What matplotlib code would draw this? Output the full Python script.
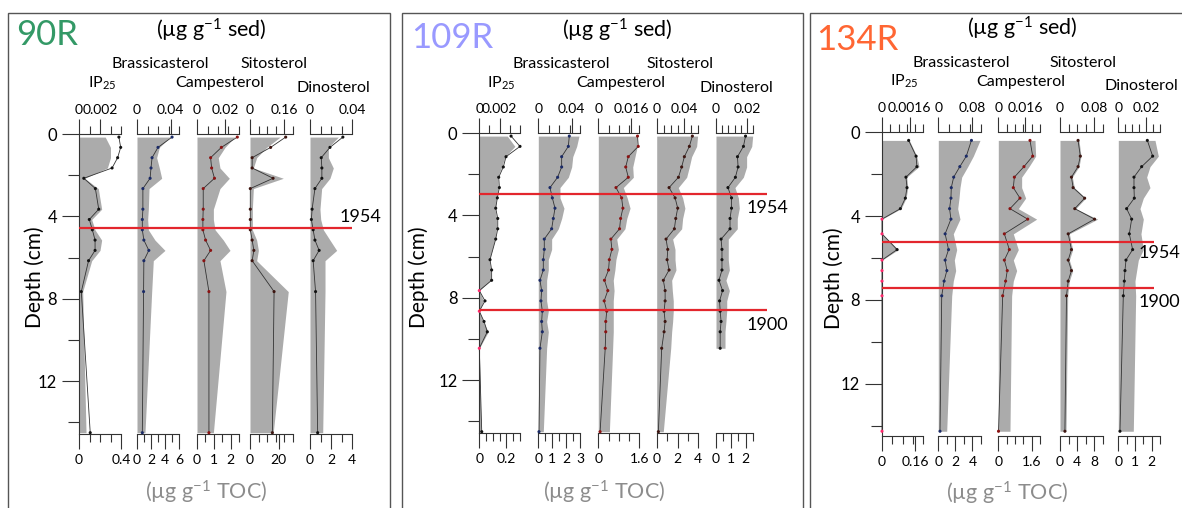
import numpy as np
import matplotlib
matplotlib.use("Agg")
import matplotlib.pyplot as plt
from matplotlib.patches import Rectangle

plt.rcParams['font.family'] = ['Lato', 'DejaVu Sans']
plt.rcParams['mathtext.fontset'] = 'custom'
plt.rcParams['mathtext.rm'] = 'Lato'
plt.rcParams['mathtext.it'] = 'Lato:italic'
plt.rcParams['mathtext.bf'] = 'Lato:bold'

# ---------------------------------------------------------------- data
cores = ['90R', '109R', '134R']
compounds = ['IP$_{25}$', 'Brassicasterol', 'Campesterol', 'Sitosterol', 'Dinosterol']
nan = np.nan

# sample mid-depths (cm)
depth_90R = [0.15, 0.65, 1.15, 1.65, 2.15, 2.65, 3.65, 4.15, 4.65, 5.15, 5.65, 6.15, 7.65, 14.5]
depth_109R = [0.15, 0.65, 1.15, 1.65, 2.15, 2.65, 3.15, 3.65, 4.15, 4.65, 5.15, 5.65, 6.15,
              6.65, 7.15, 7.65, 8.15, 8.65, 9.15, 9.65, 10.45, 14.5]
depth_134R = [0.4, 1.15, 1.65, 2.15, 2.65, 3.15, 3.65, 4.15, 4.85, 5.6, 6.1, 6.6, 7.1, 7.8, 14.25]

# 90R  (sed: ug/g sediment, toc: ug/g TOC)
ip25_sed_90R = [0.0025, 0.003, 0.003, 0.0027, 0.00054, 0.00184, 0.00216, 0.00121, 0.00152, 0.00216, 0.002, 0.00121, 0.00035, 0.00067]
ip25_toc_90R = [0.38, 0.397, 0.368, 0.315, 0.046, 0.156, 0.188, 0.098, 0.127, 0.153, 0.153, 0.091, 0.022, 0.107]
bras_sed_90R = [0.0393, 0.0266, 0.0234, 0.0266, 0.0294, 0.0143, 0.0135, 0.0127, 0.0135, 0.0214, 0.0333, 0.0194, 0.0175, 0.0095]
bras_toc_90R = [5.01, 3.0, 2.15, 2.0, 1.87, 0.84, 0.84, 0.76, 0.76, 0.98, 1.69, 0.98, 0.94, 0.76]
camp_sed_90R = [0.0269, 0.02, 0.0152, 0.0164, 0.0231, 0.0164, 0.0117, 0.0117, 0.0129, 0.0188, 0.0236, 0.0164, 0.0207, 0.0117]
camp_toc_90R = [2.40, 1.45, 0.81, 0.87, 1.04, 0.37, 0.37, 0.35, 0.35, 0.51, 0.81, 0.41, 0.71, 0.71]
sito_sed_90R = [0.14, 0.0775, 0.031, 0.0155, 0.155, 0.0155, 0.011, 0.011, 0.011, 0.031, 0.039, 0.031, 0.178, 0.108]
sito_toc_90R = [24.9, 14.4, 1.5, 1.5, 16.1, 0.2, 0.2, 0.2, 0.2, 1.5, 2.7, 1.5, 16.8, 15.6]
dino_sed_90R = [0.027, 0.0175, 0.0175, 0.0222, 0.019, 0.0111, 0.0095, 0.0102, 0.0127, 0.019, 0.0254, 0.0143, 0.0143, 0.0121]
dino_toc_90R = [3.13, 1.9, 1.07, 1.13, 1.13, 0.47, 0.2, 0.13, 0.3, 0.47, 0.87, 0.3, 0.53, 0.73]

# 109R
ip25_sed_109R = [0.00275, 0.0035, 0.00253, 0.0022, 0.0018, 0.00187, 0.0017, 0.00154, 0.0017, 0.0017, 0.00154, nan,
                 0.00098, 0.00112, 0.00112, 0.0, 0.0004, 0.0, 0.0004, 0.00088, 0.0, 0.00017]
ip25_toc_109R = [0.234, 0.3, 0.197, 0.177, 0.143, 0.148, 0.133, 0.121, 0.136, 0.136, 0.121, nan,
                 0.079, 0.091, 0.091, 0.0, 0.042, 0.0, 0.035, 0.059, 0.0, 0.018]
bras_sed_109R = [0.0488, 0.046, 0.0413, 0.04, 0.036, 0.026, 0.026, 0.0308, 0.028, 0.024, 0.016, 0.016, 0.012,
                 0.012, 0.01, 0.01, 0.01, 0.012, 0.01, 0.012, 0.01, 0.006]
bras_toc_109R = [2.23, 2.16, 1.68, 1.68, 1.39, 0.84, 1.01, 1.2, 1.08, 0.96, 0.43, 0.43, 0.36, 0.36, 0.12, 0.24,
                 0.19, 0.29, 0.24, 0.29, 0.12, 0.05]
camp_sed_109R = [0.019, 0.019, 0.0179, 0.0168, 0.0171, 0.0122, 0.0141, 0.0155, 0.0139, 0.013, 0.009, 0.0098,
                 0.0086, 0.0081, 0.0073, 0.0077, 0.0073, 0.0073, 0.0073, 0.0073, 0.007, 0.0054]
camp_toc_109R = [1.53, 1.56, 1.17, 1.07, 1.17, 0.69, 0.91, 0.96, 0.87, 0.83, 0.49, 0.53, 0.43, 0.4, 0.24, 0.37,
                 0.23, 0.33, 0.29, 0.29, 0.27, 0.07]
sito_sed_109R = [0.059, 0.0576, 0.0504, 0.047, 0.0432, 0.0311, 0.0374, 0.0407, 0.0374, 0.036, 0.023, 0.0264,
                 0.0264, 0.0278, 0.0216, 0.0225, 0.0239, 0.0239, 0.023, 0.0216, 0.0202, 0.0095]
sito_toc_109R = [3.43, 3.14, 2.66, 2.4, 2.09, 1.19, 1.77, 2.02, 1.83, 1.7, 0.9, 1.06, 1.0, 1.19, 0.64, 0.81,
                 0.81, 0.71, 0.81, 0.71, 0.48, 0.16]
dino_sed_109R = [0.0236, 0.023, 0.0197, 0.0197, 0.0176, 0.0122, 0.0144, 0.015, 0.0137, 0.0137, 0.0079, 0.0079,
                 0.0079, 0.0086, 0.0064, 0.0086, 0.0069, 0.0069, 0.0064, 0.0058, 0.0058, nan]
dino_toc_109R = [1.98, 1.84, 1.44, 1.48, 1.3, 0.8, 1.04, 1.04, 0.94, 0.94, 0.34, 0.4, 0.4, 0.4, 0.2, 0.44,
                 0.24, 0.28, 0.34, 0.28, 0.28, nan]

# 134R
ip25_sed_134R = [0.00159, 0.00202, 0.00215, 0.00144, 0.0015, 0.0014, 0.00111, 0.0, 0.0, 0.00095, 0.0, 0.0, 0.0, 0.0, 0.0]
ip25_toc_134R = [0.129, 0.165, 0.169, 0.116, 0.121, 0.113, 0.089, 0.0, 0.0, 0.073, 0.0, 0.0, 0.0, 0.0, 0.0]
bras_sed_134R = [0.0977, 0.082, 0.0689, 0.0548, 0.0508, 0.0485, 0.0454, 0.0508, 0.0351, 0.0431, 0.0375, 0.0407, 0.0351, 0.0314, 0.0197]
bras_toc_134R = [3.88, 3.28, 2.52, 1.8, 1.52, 1.48, 1.32, 1.48, 0.8, 1.2, 0.8, 1.0, 0.68, 0.4, 0.2]
camp_sed_134R = [0.022, 0.0224, 0.0184, 0.014, 0.014, 0.0164, 0.012, 0.023, 0.009, 0.012, 0.009, 0.011, 0.009, 0.008, 0.007]
camp_toc_134R = [1.52, 1.65, 1.23, 0.77, 0.72, 1.04, 0.56, 1.41, 0.29, 0.53, 0.29, 0.43, 0.35, 0.21, 0.01]
sito_sed_134R = [0.0445, 0.0492, 0.0445, 0.0289, 0.0336, 0.0601, 0.0367, 0.0882, 0.0219, 0.0297, 0.0219, 0.0297, 0.0219, 0.018, 0.0141]
sito_toc_134R = [4.23, 4.76, 4.23, 2.68, 3.07, 5.77, 3.46, 8.08, 1.92, 2.68, 1.92, 2.68, 1.92, 1.52, 1.15]
dino_sed_134R = [0.0264, 0.0288, 0.0228, 0.0204, 0.0228, 0.018, 0.0156, 0.018, 0.0163, 0.018, 0.0144, 0.0132, 0.012, 0.0125, 0.0108]
dino_toc_134R = [1.74, 2.06, 1.4, 0.94, 0.94, 0.96, 0.5, 0.8, 0.66, 0.86, 0.46, 0.4, 0.36, 0.3, 0.1]

depths = {'90R': depth_90R, '109R': depth_109R, '134R': depth_134R}
sed = {'90R': [ip25_sed_90R, bras_sed_90R, camp_sed_90R, sito_sed_90R, dino_sed_90R],
       '109R': [ip25_sed_109R, bras_sed_109R, camp_sed_109R, sito_sed_109R, dino_sed_109R],
       '134R': [ip25_sed_134R, bras_sed_134R, camp_sed_134R, sito_sed_134R, dino_sed_134R]}
toc = {'90R': [ip25_toc_90R, bras_toc_90R, camp_toc_90R, sito_toc_90R, dino_toc_90R],
       '109R': [ip25_toc_109R, bras_toc_109R, camp_toc_109R, sito_toc_109R, dino_toc_109R],
       '134R': [ip25_toc_134R, bras_toc_134R, camp_toc_134R, sito_toc_134R, dino_toc_134R]}

# axis scales: (max, number of tick intervals, labelled values)
top_scales = {
    '90R': [(0.004, 4, [0, 0.002]), (0.05, 4, [0, 0.04]), (0.03, 4, [0, 0.02]), (0.2, 5, [0, 0.16]), (0.04, 4, [0, 0.04])],
    '109R': [(0.004, 4, [0, 0.002]), (0.05, 4, [0, 0.04]), (0.02, 4, [0, 0.016]), (0.06, 6, [0, 0.04]), (0.024, 6, [0, 0.02])],
    '134R': [(0.0024, 5, [0, 0.0016]), (0.1, 4, [0, 0.08]), (0.025, 5, [0, 0.016]), (0.1, 5, [0, 0.08]), (0.03, 6, [0, 0.02])],
}
bottom_scales = {
    '90R': [(0.4, 4, [0, 0.4]), (6, 6, [0, 2, 4, 6]), (2.5, 5, [0, 1, 2]), (30, 5, [0, 20]), (4, 4, [0, 2, 4])],
    '109R': [(0.3, 6, [0, 0.2]), (3, 6, [0, 1, 2, 3]), (1.6, 4, [0, 1.6]), (4, 4, [0, 2, 4]), (2.5, 5, [0, 1, 2])],
    '134R': [(0.2, 4, [0, 0.16]), (5, 5, [0, 2, 4]), (2.0, 5, [0, 1.6]), (10, 5, [0, 4, 8]), (2.5, 5, [0, 1, 2])],
}

# dated horizons: (depth cm, year)
events = {'90R': [(4.58, '1954')], '109R': [(2.96, '1954'), (8.61, '1900')], '134R': [(5.22, '1954'), (7.41, '1900')]}

# ---------------------------------------------------------------- layout (pixels)
W, H = 1182, 508
PT = 0.72  # points per pixel at 100 dpi

layout = {
    '90R': dict(box=(8, 390), y0=134, y1=434, ppcm=20.6,
                cols=[(79, 121), (137, 179), (197, 239), (250, 293), (310, 352)],
                line_end=352, name_xy=(16, 45), name_color='#339966', sed_xy=(211, 37.5),
                title_base=68.3, toc_xy=(206, 492), depth_xy=(35, 277),
                event_xy=[(340, 217)]),
    '109R': dict(box=(402, 803), y0=133, y1=433, ppcm=20.6,
                 cols=[(479.3, 520), (538.3, 580), (598.3, 639.3), (656.7, 698.3), (716, 753.3)],
                 line_end=767, name_xy=(411, 48), name_color='#9999ff', sed_xy=(617, 37.5),
                 title_base=68.3, toc_xy=(604, 492), depth_xy=(419, 277),
                 event_xy=[(747, 208), (747, 325)]),
    '134R': dict(box=(810, 1200), y0=132, y1=436, ppcm=21.0,
                 cols=[(882, 923.3), (938.3, 981), (998.3, 1040), (1060, 1102.7), (1118.3, 1160)],
                 line_end=1154, name_xy=(816, 50), name_color='#ff6633', sed_xy=(1022, 36),
                 title_base=66.7, toc_xy=(1007, 493), depth_xy=(834, 278),
                 event_xy=[(1139, 253), (1139, 302)]),
}

title_row_offset = [19, 0, 19, 0, 23.4]
dot_colors = ['#111111', '#1a2a66', '#8a1212', '#3d1510', '#111111']
ZERO = '#ff2a6d'
FILL = '#ababab'
LINE = '#333333'
SPINE = '#333333'
RED = '#e3262d'

fig = plt.figure(figsize=(W / 100, H / 100), dpi=100)


def rect(x0, x1, y0, y1):
    return [x0 / W, 1 - y1 / H, (x1 - x0) / W, (y1 - y0) / H]


def ftext(x, y, s, **kw):
    return fig.text(x / W, 1 - y / H, s, **kw)


def fmt(v):
    return '0' if v == 0 else f'{v:g}'


for core in cores:
    g = layout[core]
    dmax = (g['y1'] - g['y0']) / g['ppcm']
    d = np.asarray(depths[core], float)

    # panel frame
    bx0, bx1 = g['box']
    fig.add_artist(Rectangle((bx0 / W, -0.05), (bx1 - bx0) / W, 1.05 - 13 / H,
                             transform=fig.transFigure, fill=False, ec='#555555', lw=1.0))

    for i, comp in enumerate(compounds):
        x0, x1 = g['cols'][i]
        ax = fig.add_axes(rect(x0, x1, g['y0'], g['y1']))
        ax.set_ylim(dmax, 0)
        tmax, tn, tlab = top_scales[core][i]
        ax.set_xlim(0, tmax)
        s = np.asarray(sed[core][i], float)
        m = ~np.isnan(s)
        ax.fill_betweenx(d[m], 0, s[m], color=FILL, lw=0, zorder=1)
        ax.patch.set_visible(False)

        ax2 = ax.twiny()
        bmax, bn, blab = bottom_scales[core][i]
        ax2.set_xlim(0, bmax)
        t = np.asarray(toc[core][i], float)
        m = ~np.isnan(t)
        ax2.plot(t[m], d[m], color=LINE, lw=0.6, zorder=2, clip_on=False)
        cols = [ZERO if v == 0 else dot_colors[i] for v in t[m]]
        ax2.scatter(t[m], d[m], s=5, c=cols, zorder=3, linewidths=0, clip_on=False)

        # top axis: sediment-normalised scale
        ax.xaxis.tick_top()
        ax.set_xticks(tlab)
        ax.set_xticklabels([fmt(v) for v in tlab])
        ax.set_xticks(np.linspace(0, tmax, tn + 1), minor=True)
        ax.tick_params(axis='x', which='major', direction='out', length=15 * PT, width=0.8,
                       pad=2, labelsize=10, top=True, bottom=False, labeltop=True,
                       labelbottom=False, color=SPINE)
        ax.tick_params(axis='x', which='minor', direction='out', length=8 * PT, width=0.8,
                       top=True, bottom=False, color=SPINE)

        # bottom axis: TOC-normalised scale
        ax2.xaxis.tick_bottom()
        ax2.set_xticks(blab)
        ax2.set_xticklabels([fmt(v) for v in blab])
        ax2.set_xticks(np.linspace(0, bmax, bn + 1), minor=True)
        ax2.tick_params(axis='x', which='major', direction='out', length=15 * PT, width=0.8,
                        pad=3.5, labelsize=10, top=False, bottom=True, labeltop=False,
                        labelbottom=True, color=SPINE)
        ax2.tick_params(axis='x', which='minor', direction='out', length=8 * PT, width=0.8,
                        top=False, bottom=True, color=SPINE)

        for sp in ['left', 'right', 'bottom']:
            ax.spines[sp].set_visible(False)
        ax.spines['top'].set_color(SPINE)
        ax.spines['top'].set_linewidth(0.8)
        for sp in ['left', 'right', 'top']:
            ax2.spines[sp].set_visible(False)
        ax2.spines['bottom'].set_color(SPINE)
        ax2.spines['bottom'].set_linewidth(0.8)

        if i == 0:
            # depth axis
            ax.spines['left'].set_visible(True)
            ax.spines['left'].set_color(SPINE)
            ax.spines['left'].set_linewidth(0.8)
            ax.set_yticks([0, 4, 8, 12])
            ax.set_yticks([2, 6, 10, 14], minor=True)
            ax.tick_params(axis='y', which='major', direction='out', length=17 * PT, width=0.8,
                           pad=3.5, labelsize=12, color=SPINE)
            ax.tick_params(axis='y', which='minor', direction='out', length=11 * PT, width=0.8,
                           color=SPINE)
        else:
            ax.set_yticks([])
            ax.tick_params(axis='y', which='both', left=False, labelleft=False)

        # compound name
        cx = 0.5 * (x0 + x1) + 2
        ftext(cx, g['title_base'] + title_row_offset[i], comp, ha='center', va='baseline',
              fontsize=11.5)

    # dated horizons
    xa = g['cols'][0][0]
    axe = fig.add_axes(rect(xa, g['line_end'], g['y0'], g['y1']))
    axe.set_xlim(0, 1)
    axe.set_ylim(dmax, 0)
    axe.axis('off')
    for (dep, year), (tx, ty) in zip(events[core], g['event_xy']):
        axe.axhline(dep, color=RED, lw=1.6)
        ftext(tx, ty, year, ha='left', va='center', fontsize=13)

    # panel texts
    ftext(*g['name_xy'], core, color=g['name_color'], fontsize=25, ha='left', va='baseline')
    ftext(*g['sed_xy'], '(µg g$^{-1}$ sed)', fontsize=15.5, ha='center', va='baseline')
    ftext(*g['toc_xy'], '(µg g$^{-1}$ TOC)', fontsize=15.5, ha='center', va='center', color='#8c8c8c')
    ftext(*g['depth_xy'], 'Depth (cm)', fontsize=15, rotation=90, ha='center', va='center')

fig.savefig('out.png', dpi=100)
